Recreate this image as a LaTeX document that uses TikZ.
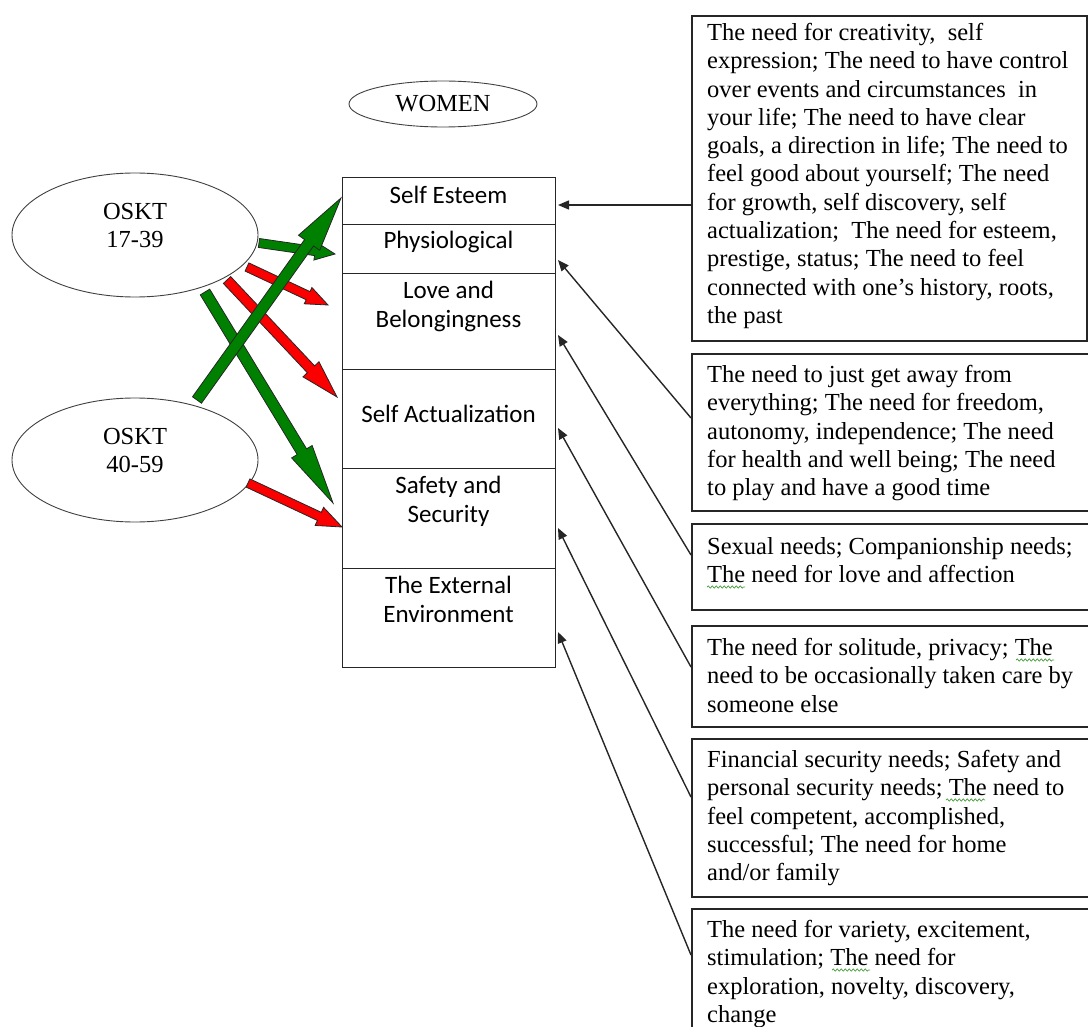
\documentclass[tikz,border=0pt]{standalone}
\usepackage{fontspec}
\setmainfont{Liberation Serif}
\newfontfamily\rowfont{Carlito}
\usetikzlibrary{calc,arrows.meta,shapes.geometric,decorations.pathmorphing}

\definecolor{arrowgreen}{RGB}{0,128,0}
\definecolor{arrowred}{RGB}{250,0,0}
\definecolor{squiggle}{RGB}{70,160,60}

% block arrow: #1 tail, #2 tip, #3 fill, #4 head length, #5 head half-width, #6 shaft half-width
\newcommand\fatarrow[6]{%
  \path ($(#2)!#4!(#1)$) coordinate (fa-base);
  \draw[blockarrow, fill=#3]
    ($(#1)!#6!90:(#2)$) -- ($(fa-base)!#6!90:(#2)$) -- ($(fa-base)!#5!90:(#2)$)
    -- (#2)
    -- ($(fa-base)!#5!-90:(#2)$) -- ($(fa-base)!#6!-90:(#2)$) -- ($(#1)!#6!-90:(#2)$) -- cycle;}

\tikzset{
  blockarrow/.style={draw=black!85, line width=0.8pt, line join=miter},
  conn/.style={draw=black!85, line width=1.4pt, -{Triangle[length=11pt,width=9pt]}},
  needbox/.style={draw=black!85, line width=1.6pt, anchor=north west, inner sep=0},
  needtext/.style={anchor=north west, inner sep=0, align=left,
    font=\fontsize{24.5}{28.3}\selectfont},
  rowbox/.style={draw=black!85, line width=1.4pt, minimum width=213pt, inner sep=0, anchor=north west},
  rowtext/.style={anchor=base, inner sep=0, align=center,
    font=\rowfont\fontsize{25}{29}\selectfont},
  oval/.style={draw=black!75, line width=0.9pt, ellipse, inner sep=0},
  ovaltext/.style={inner sep=0, align=center, font=\fontsize{24.5}{28}\selectfont},
  squig/.style={draw=squiggle, line width=0.7pt, decorate,
    decoration={snake, amplitude=1.1pt, segment length=4pt}}
}

\begin{document}
\begin{tikzpicture}[x=1pt, y=-1pt]
\useasboundingbox (0,0) rectangle (1088,1027);
\clip (0,0) rectangle (1088,1027);

% title oval
\node[oval, minimum width=188pt, minimum height=46pt] (women) at (443,104) {};
\node[ovaltext, anchor=base] (womenlbl) at (443,112) {WOMEN};

% age group ovals
\node[oval, minimum width=246pt, minimum height=124pt] (young) at (135,235) {};
\node[ovaltext] (younglbl) at (135,226) {OSKT\\17-39};
\node[oval, minimum width=246pt, minimum height=124pt] (old) at (135,460) {};
\node[ovaltext] (oldlbl) at (135,451) {OSKT\\40-59};

% stack of need categories
\node[rowbox, minimum height=47pt] (r1) at (342,177) {};
\node[rowbox, minimum height=49pt] (r2) at (342,224) {};
\node[rowbox, minimum height=96pt] (r3) at (342,273) {};
\node[rowbox, minimum height=99pt] (r4) at (342,369) {};
\node[rowbox, minimum height=100pt] (r5) at (342,468) {};
\node[rowbox, minimum height=99pt] (r6) at (342,568) {};
% (base anchor of a two-line label sits on its last line)
\node[rowtext] (r1lbl) at (448.5,204) {Self Esteem};
\node[rowtext] (r2lbl) at (448.5,249) {Physiological};
\node[rowtext] (r3lbl) at (448.5,327) {Love and\\Belongingness};
\node[rowtext] (r4lbl) at (448.5,422) {Self Actualization};
\node[rowtext] (r5lbl) at (448.5,522) {Safety and\\Security};
\node[rowtext] (r6lbl) at (448.5,622) {The External\\Environment};

% need descriptions
\node[needbox, minimum width=395pt, minimum height=325pt] (n1) at (691,15) {};
\node[needbox, minimum width=420pt, minimum height=157pt] (n2) at (691,353) {};
\node[needbox, minimum width=420pt, minimum height=86pt]  (n3) at (691,523) {};
\node[needbox, minimum width=420pt, minimum height=101pt] (n4) at (691,625) {};
\node[needbox, minimum width=420pt, minimum height=158pt] (n5) at (691,738) {};
\node[needbox, minimum width=420pt, minimum height=160pt] (n6) at (691,908) {};

\node[needtext] (n1txt) at (707,23) {The need for creativity,~ self\\
expression; The need to have control\\
over events and circumstances~ in\\
your life; The need to have clear\\
goals, a direction in life; The need to\\
feel good about yourself; The need\\
for growth, self discovery, self\\
actualization;~ The need for esteem,\\
prestige, status; The need to feel\\
connected with one’s history, roots,\\
the past};
\node[needtext] (n2txt) at (707,365) {The need to just get away from\\
everything; The need for freedom,\\
autonomy, independence; The need\\
for health and well being; The need\\
to play and have a good time};
\node[needtext] (n3txt) at (707,537) {Sexual needs; Companionship needs;\\
The need for love and affection};
\node[needtext] (n4txt) at (707,638) {The need for solitude, privacy; The\\
need to be occasionally taken care by\\
someone else};
\node[needtext] (n5txt) at (707,750) {Financial security needs; Safety and\\
personal security needs; The need to\\
feel competent, accomplished,\\
successful; The need for home\\
and/or family};
\node[needtext] (n6txt) at (707,920) {The need for variety, excitement,\\
stimulation; The need for\\
exploration, novelty, discovery,\\
change};

% spell-check underlines
\draw[squig] (707,587) -- (745,587);
\draw[squig] (1016,660) -- (1054,660);
\draw[squig] (946,800) -- (985,800);
\draw[squig] (832,970) -- (870,970);

% connector end points
\coordinate (s1) at (691,205);  \coordinate (t1) at (558,205);
\coordinate (s2) at (691,418);  \coordinate (t2) at (558,260);
\coordinate (s3) at (691,555);  \coordinate (t3) at (558,335);
\coordinate (s4) at (691,667);  \coordinate (t4) at (558,428);
\coordinate (s5) at (691,797);  \coordinate (t5) at (558,528);
\coordinate (s6) at (691,955);  \coordinate (t6) at (558,632);
\foreach \i in {1,...,6} { \draw[conn] (s\i) -- (t\i); }

% block arrows from the age groups
\coordinate (g1a) at (259,243); \coordinate (g1b) at (335,254);
\coordinate (r1a) at (247,267); \coordinate (r1b) at (328,305);
\coordinate (r2a) at (227,280); \coordinate (r2b) at (337,397);
\coordinate (g2a) at (205,292); \coordinate (g2b) at (333,503);
\coordinate (r3a) at (248,483); \coordinate (r3b) at (342,527);
\coordinate (g3a) at (197,400); \coordinate (g3b) at (341,198);
\fatarrow{g1a}{g1b}{arrowgreen}{20pt}{9pt}{4.5pt}
\fatarrow{r1a}{r1b}{arrowred}{22pt}{9pt}{4.5pt}
\fatarrow{r2a}{r2b}{arrowred}{38pt}{11pt}{5pt}
\fatarrow{g2a}{g2b}{arrowgreen}{60pt}{12pt}{5.5pt}
\fatarrow{r3a}{r3b}{arrowred}{25pt}{10pt}{4.5pt}
\fatarrow{g3a}{g3b}{arrowgreen}{55pt}{13pt}{5.5pt}
\end{tikzpicture}
\end{document}
